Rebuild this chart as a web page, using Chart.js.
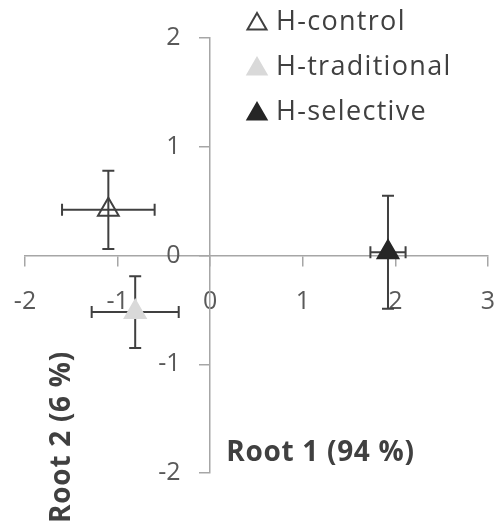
<!DOCTYPE html>
<html><head><meta charset="utf-8">
<script src="https://cdn.jsdelivr.net/npm/chart.js@4/dist/chart.umd.min.js"></script>
<style>html,body{margin:0;padding:0;background:#fff}#w{width:502px;height:529px}</style>
</head><body>
<div id="w"><canvas id="c" width="502" height="529"></canvas></div>
<script>
const seriesNames = ['H-control', 'H-traditional', 'H-selective'];
const root1 = [-1.10, -0.81, 1.92];
const root2 = [0.42, -0.52, 0.03];
const root1Err = [0.50, 0.47, 0.19];
const root2Err = [0.36, 0.33, 0.52];
const xTicks = [-2, -1, 0, 1, 2, 3];
const yTicks = [-2, -1, 0, 1, 2];
const axisTitles = ['Root 1 (94 %)', 'Root 2 (6 %)'];

const fills = ['rgba(255,255,255,0)', '#d9d9d9', '#262626'];
const strokes = ['#404040', '#d9d9d9', '#262626'];
const FONT = '"Open Sans", sans-serif';

function triangle(ctx, cx, cy, r, fill, stroke) {
  ctx.beginPath();
  ctx.moveTo(cx, cy - r);
  ctx.lineTo(cx + r * Math.sin(2 * Math.PI / 3), cy + r / 2);
  ctx.lineTo(cx - r * Math.sin(2 * Math.PI / 3), cy + r / 2);
  ctx.closePath();
  ctx.fillStyle = fill; ctx.fill();
  ctx.lineWidth = 2; ctx.strokeStyle = stroke; ctx.stroke();
}

const errorBars = {
  id: 'errorBars',
  beforeDatasetsDraw(chart) {
    const { ctx, scales: { x, y } } = chart;
    const cap = 6;
    ctx.save();
    ctx.strokeStyle = '#404040';
    ctx.lineWidth = 2;
    chart.data.datasets.forEach(ds => {
      ds.data.forEach(p => {
        const cx = x.getPixelForValue(p.x), cy = y.getPixelForValue(p.y);
        const x0 = x.getPixelForValue(p.x - p.xErr), x1 = x.getPixelForValue(p.x + p.xErr);
        const y0 = y.getPixelForValue(p.y + p.yErr), y1 = y.getPixelForValue(p.y - p.yErr);
        ctx.beginPath();
        ctx.moveTo(x0, cy); ctx.lineTo(x1, cy);
        ctx.moveTo(x0, cy - cap); ctx.lineTo(x0, cy + cap);
        ctx.moveTo(x1, cy - cap); ctx.lineTo(x1, cy + cap);
        ctx.moveTo(cx, y0); ctx.lineTo(cx, y1);
        ctx.moveTo(cx - cap, y0); ctx.lineTo(cx + cap, y0);
        ctx.moveTo(cx - cap, y1); ctx.lineTo(cx + cap, y1);
        ctx.stroke();
      });
    });
    ctx.restore();
  }
};

const decorations = {
  id: 'decorations',
  afterDraw(chart) {
    const { ctx, scales: { x, y } } = chart;
    ctx.save();
    // legend
    ctx.font = '27px ' + FONT;
    ctx.letterSpacing = '1.3px';
    ctx.textBaseline = 'middle';
    ctx.textAlign = 'left';
    chart.data.datasets.forEach((ds, i) => {
      const ly = 22 + i * 45;
      triangle(ctx, 257, ly + 2, 11, ds.backgroundColor, ds.borderColor);
      ctx.fillStyle = '#404040';
      ctx.fillText(ds.label, 276, ly);
    });
    // axis titles
    ctx.font = 'bold 28px ' + FONT;
    ctx.letterSpacing = '0.7px';
    ctx.fillStyle = '#404040';
    ctx.textAlign = 'left';
    ctx.fillText(axisTitles[0], x.getPixelForValue(0) + 16, y.getPixelForValue(-1.82));
    ctx.translate(62, 437);
    ctx.rotate(-Math.PI / 2);
    ctx.textAlign = 'center';
    ctx.fillText(axisTitles[1], 0, 0);
    ctx.restore();
  }
};

const datasets = seriesNames.map((name, i) => ({
  label: name,
  data: [{ x: root1[i], y: root2[i], xErr: root1Err[i], yErr: root2Err[i] }],
  pointStyle: 'triangle',
  pointRadius: 12,
  pointHoverRadius: 12,
  pointBorderWidth: 2,
  backgroundColor: fills[i],
  borderColor: strokes[i]
}));

const axisColor = '#a6a6a6';
const tickFont = { family: FONT, size: 25 };
const setY = s => { s.ticks = yTicks.map(v => ({ value: v })); };
const noSpaceV = s => { s.width = 0; s.paddingTop = 0; s.paddingBottom = 0; s.paddingLeft = 0; s.paddingRight = 0; };
const noSpaceH = s => { s.height = 0; s.paddingLeft = 0; s.paddingRight = 0; s.paddingTop = 0; s.paddingBottom = 0; };

new Chart(document.getElementById('c'), {
  type: 'scatter',
  data: { datasets },
  options: {
    responsive: false,
    animation: false,
    events: [],
    layout: { padding: { left: 25, right: 13, top: 38, bottom: 56 } },
    plugins: { legend: { display: false }, tooltip: { enabled: false } },
    scales: {
      x: {
        type: 'linear', min: -2, max: 3,
        position: { y: 0 },
        afterBuildTicks: s => { s.ticks = xTicks.map(v => ({ value: v })); },
        afterFit: noSpaceH,
        grid: { drawOnChartArea: false, drawTicks: true, tickLength: 10, color: axisColor, lineWidth: 1.5 },
        border: { display: true, color: axisColor, width: 1.5 },
        ticks: { color: '#595959', font: tickFont, padding: 21, maxRotation: 0, autoSkip: false }
      },
      y: {
        type: 'linear', min: -2, max: 2,
        position: { x: 0 },
        afterBuildTicks: setY,
        afterFit: noSpaceV,
        grid: { drawOnChartArea: false, drawTicks: true, tickLength: 10, color: axisColor, lineWidth: 1.5 },
        border: { display: true, color: axisColor, width: 1.5 },
        ticks: { display: false }
      },
      yLabels: {
        type: 'linear', min: -2, max: 2,
        position: { x: -0.32 },
        afterBuildTicks: setY,
        afterFit: noSpaceV,
        grid: { display: false, drawTicks: false },
        border: { display: false },
        ticks: { color: '#595959', font: tickFont, autoSkip: false }
      }
    }
  },
  plugins: [errorBars, decorations]
});
</script>
</body></html>
